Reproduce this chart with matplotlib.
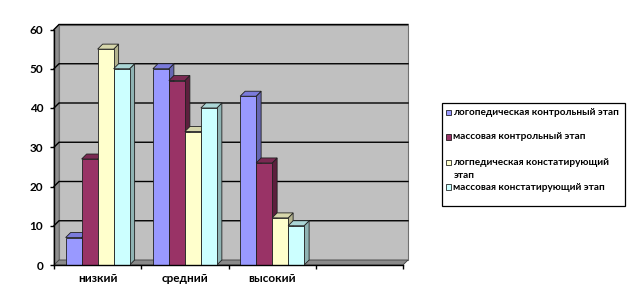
import matplotlib
matplotlib.use('Agg')
import matplotlib.pyplot as plt
from matplotlib.patches import Polygon, Rectangle

# ---- data ----
categories = ['низкий', 'средний', 'высокий', '']
series_names = ['логопедическая контрольный этап',
                'массовая контрольный этап',
                'логпедическая констатирующий\nэтап',
                'массовая констатирующий этап']
logo_control = [7, 50, 43]
mass_control = [27, 47, 26]
logo_const = [55, 34, 12]
mass_const = [50, 40, 10]
y_ticks = [0, 10, 20, 30, 40, 50, 60]

series = [logo_control, mass_control, logo_const, mass_const]
face_colors = ['#9999FF', '#993366', '#FFFFCC', '#CCFFFF']
top_colors = ['#7B7BDB', '#7A2952', '#D6D6AB', '#ABD6D6']
side_colors = ['#6666B3', '#5C1F3D', '#B3B38F', '#8FB3B3']

FONT = ['Lato', 'DejaVu Sans']
W, H = 635, 299
fig = plt.figure(figsize=(W / 100, H / 100), dpi=100)
fig.patch.set_facecolor('white')
ax_l, ax_r, ax_b, ax_t = 54, 403, 265, 29.5
ax = fig.add_axes([ax_l / W, 1 - ax_b / H, (ax_r - ax_l) / W, (ax_b - ax_t) / H])
ncat = len(categories)
ymax = y_ticks[-1]
ax.set_xlim(0, ncat)
ax.set_ylim(0, ymax)
ax.patch.set_visible(False)

depth_px = 5
dx = depth_px / ((ax_r - ax_l) / ncat)
dy = depth_px / ((ax_b - ax_t) / ymax)

# walls
ax.add_patch(Polygon([(dx, dy), (ncat + dx, dy), (ncat + dx, ymax + dy), (dx, ymax + dy)],
                     closed=True, facecolor='#C0C0C0', edgecolor='#707070', lw=0.8,
                     zorder=0.1, clip_on=False))
ax.add_patch(Polygon([(0, 0), (dx, dy), (dx, ymax + dy), (0, ymax)], closed=True,
                     facecolor='#8E8E8E', edgecolor='#707070', lw=0.6, zorder=0.2, clip_on=False))
ax.add_patch(Polygon([(0, 0), (ncat, 0), (ncat + dx, dy), (dx, dy)], closed=True,
                     facecolor='#8A8A8A', edgecolor='#404040', lw=0.6, zorder=0.2, clip_on=False))
for t in y_ticks[1:]:
    ax.plot([0, dx, ncat + dx], [t, t + dy, t + dy], color='black', lw=1.0,
            zorder=0.5, clip_on=False, solid_joinstyle='miter')

# bars
bw = 0.1833
nser = len(series)
for i in range(len(logo_control)):
    for j, s in enumerate(series):
        v = s[i]
        x = i + 0.5 + (j - nser / 2) * bw
        ax.add_patch(Polygon([(x + bw, 0), (x + bw + dx, dy), (x + bw + dx, v + dy), (x + bw, v)],
                             closed=True, facecolor=side_colors[j], edgecolor='#202020',
                             lw=0.6, zorder=1, clip_on=False))
        ax.add_patch(Polygon([(x, v), (x + bw, v), (x + bw + dx, v + dy), (x + dx, v + dy)],
                             closed=True, facecolor=top_colors[j], edgecolor='#202020',
                             lw=0.6, zorder=1, clip_on=False))
        ax.bar(x, v, width=bw, align='edge', color=face_colors[j], edgecolor='#202020',
               lw=0.6, zorder=1, clip_on=False)

# axes
for sp in ['top', 'right']:
    ax.spines[sp].set_visible(False)
for sp in ['left', 'bottom']:
    ax.spines[sp].set_color('black')
    ax.spines[sp].set_linewidth(1.0)
    ax.spines[sp].set_zorder(3)
ax.set_yticks(y_ticks)
ax.set_yticklabels([str(t) for t in y_ticks], fontsize=8.5, fontweight='bold', family=FONT)
ax.tick_params(axis='y', direction='out', length=3, width=1, pad=4.8)
ax.set_xticks(range(ncat + 1))
ax.set_xticklabels([''] * (ncat + 1))
ax.tick_params(axis='x', which='major', direction='out', length=3, width=1)
ax.set_xticks([k + 0.5 for k in range(ncat)], minor=True)
ax.set_xticklabels(categories, minor=True, fontsize=8.5, fontweight='bold', family=FONT)
ax.tick_params(axis='x', which='minor', length=0, pad=6)

# legend (custom box)
fig.patches.append(Rectangle((442 / W, 1 - 206 / H), (625 - 442) / W, (206 - 103) / H,
                             transform=fig.transFigure, facecolor='white',
                             edgecolor='black', lw=0.9))
entry_y = [112.3, 137, 162.3, 187]
for j, name in enumerate(series_names):
    yc = entry_y[j]
    fig.patches.append(Rectangle((446 / W, 1 - (yc + 2.7) / H), 5.4 / W, 5.4 / H,
                                 transform=fig.transFigure, facecolor=face_colors[j],
                                 edgecolor='black', lw=0.5))
    lines = name.split('\n')
    fig.text(453 / W, 1 - yc / H, lines[0], fontsize=7.2, fontweight='bold',
             family=FONT, va='center', ha='left')
    for k, extra in enumerate(lines[1:]):
        fig.text(454 / W, 1 - (yc + 13.4 * (k + 1)) / H, extra, fontsize=7.2,
                 fontweight='bold', family=FONT, va='center', ha='left')

fig.savefig('out.png', dpi=100)
